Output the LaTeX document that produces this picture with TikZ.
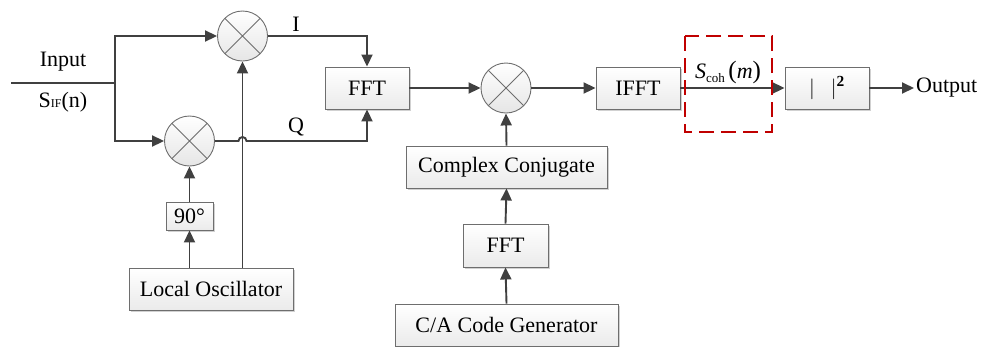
\documentclass[tikz,border=0pt]{standalone}
\usepackage{fontspec}
\setmainfont{Liberation Serif}
\usetikzlibrary{arrows.meta,shadows,calc}
\definecolor{linec}{HTML}{404040}
\definecolor{boxc}{HTML}{6E6E6E}
\definecolor{redc}{HTML}{C00000}
\tikzset{
  blk/.style={draw=boxc, line width=0.9pt, top color=white, bottom color=black!8,
    drop shadow={shadow xshift=2pt, shadow yshift=-2pt, fill=black!18, opacity=1},
    inner sep=0pt, font=\fontsize{22}{26}\selectfont},
  mix/.style={circle, draw=boxc, line width=0.9pt, minimum size=50pt, inner sep=0pt,
    top color=white, bottom color=black!10,
    path picture={\draw[boxc, line width=0.9pt] (path picture bounding box.north west) -- (path picture bounding box.south east)
      (path picture bounding box.north east) -- (path picture bounding box.south west);}},
  conn/.style={draw=linec, line width=1.9pt},
  arr/.style={conn, -{Triangle[length=12pt,width=11pt]}},
  lbl/.style={font=\fontsize{22}{26}\selectfont, inner sep=0pt},
}
\begin{document}
\begin{tikzpicture}[x=1pt,y=-1pt]
\useasboundingbox (0,0) rectangle (981,346);
% blocks
\node[blk, minimum width=84pt, minimum height=42pt] (fft1) at (367,88) {FFT};
\node[blk, minimum width=84pt, minimum height=42pt] (ifft) at (638,88) {IFFT};
\node[blk, minimum width=84pt, minimum height=42pt] (abs) at (827,88) {$|$\hspace{16pt}$|$\textsuperscript{\textbf{2}}};
\node[blk, minimum width=201pt, minimum height=42pt] (cc) at (506.5,167) {Complex Conjugate};
\node[blk, minimum width=85pt, minimum height=43pt] (fft2) at (505.5,245.5) {FFT};
\node[blk, minimum width=223pt, minimum height=42pt] (ca) at (506.5,325) {C/A Code Generator};
\node[blk, minimum width=47pt, minimum height=28pt] (p90) at (189.5,216) {90°};
\node[blk, minimum width=164pt, minimum height=42pt] (lo) at (211,289) {Local Oscillator};
% mixers
\node[mix] (m1) at (242.5,36) {};
\node[mix] (m2) at (189.5,141) {};
\node[mix] (m3) at (506,88) {};
% labels
\node[lbl] (tin) at (63,62) {Input};
\node[lbl] (tsif) at (63,102) {S{\fontsize{12}{14}\selectfont IF}(n)};
\node[lbl] (ti) at (296,24) {I};
\node[lbl] (tq) at (296,127) {Q};
\node[lbl] (tcoh) at (728,72) {\textit{S}\raisebox{-4pt}{\fontsize{13}{15}\selectfont coh}\,{\fontsize{25}{28}\selectfont(}\textit{m}{\fontsize{25}{28}\selectfont)}};
\node[lbl, anchor=west] (tout) at (916,88) {Output};
% coordinates
\coordinate (in) at (11,83);
\coordinate (split) at (115,83);
% connectors
\draw[conn] (in) -- (split);
\draw[arr] (split) |- (m1.west);
\draw[arr] (split) |- (m2.west);
\draw[arr] (m1.east) -| (fft1.north);
\draw[arr] (m2.east) -- ($(m2.east -| m1.south)+(-4pt,0)$) arc (180:0:4pt) -| (fft1.south);
\draw[arr] (lo.north -| m1.south) -- (m1.south);
\draw[arr] (lo.north -| p90.south) -- (p90.south);
\draw[arr] (p90.north) -- (m2.south);
\draw[arr] (fft1.east) -- (m3.west);
\draw[arr] (m3.east) -- (ifft.west);
\draw[arr] (cc.north) -- (m3.south);
\draw[arr] (fft2.north) -- (cc.south);
\draw[arr] (ca.north) -- (fft2.south);
\draw[arr] (ifft.east) -- (abs.west);
\draw[arr] (abs.east) -- ([xshift=-2pt]tout.west);
% red dashed frame
\draw[redc, line width=2.6pt, dash pattern=on 15pt off 7pt] (685,36) rectangle (772,132);
\end{tikzpicture}
\end{document}
